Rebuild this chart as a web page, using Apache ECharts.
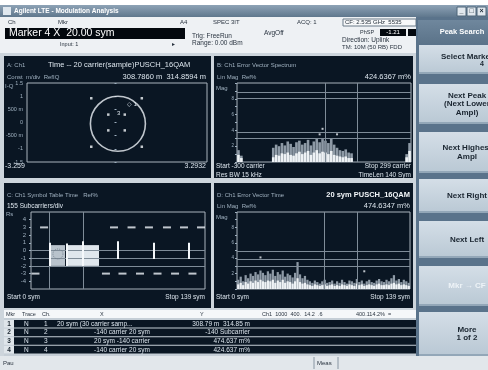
<!DOCTYPE html>
<html><head><meta charset="utf-8">
<script src="https://cdn.jsdelivr.net/npm/echarts@6/dist/echarts.min.js"></script>
<style>html,body{margin:0;padding:0;background:#fff}#c{width:488px;height:370px}</style>
</head><body><div id="c"></div>
<script>
// ---------- DATA ----------
// A: IQ constellation (16QAM, inner/outer points visible off the ring)
const constI = [-0.92, 0.92, -0.92, 0.92, -0.30, 0.30, -0.30, 0.30];
const constQ = [0.92, 0.92, -0.92, -0.92, 0.30, 0.30, -0.30, -0.30];
const ringCenter = [0.05, -0.05];
const iqRange = [-3.259, 3.2932];
const iqYTicks = {'1.5':'1.5','1':'1','0.5':'500 m','0':'0','-0.5':'-500 m','-1':'-1','-1.5':'-1.5'};

// B: error vector spectrum (carrier bins, % of ref)
const specBins = ['-300','-290','-280','-270','-260','-250','-240','-230','-220','-210',
  '-200','-190','-180','-170','-160','-150','-140','-130','-120','-110',
  '-100','-90','-80','-70','-60','-50','-40','-30','-20','-10',
  '0','10','20','30','40','50','60','70','80','90',
  '100','110','120','130','140','150','160','170','180','190',
  '200','210','220','230','240','250','260','270','280','290'];
const specPeak = [15,8,0,0,0,0,0,0,0,0, 0,0,18,22,20,24,21,26,23,19,
  25,27,22,24,28,21,26,30,25,29, 27,24,30,22,18,15,14,16,12,11,
  0,0,0,0,0,0,0,0,0,0, 0,0,0,0,0,0,0,0,10,24];
const specAvg = [9,5,0,0,0,0,0,0,0,0, 0,0,6,9,8,11,10,12,9,8,
  11,13,10,12,14,9,12,15,11,13, 12,10,14,9,8,7,6,7,5,5,
  0,0,0,0,0,0,0,0,0,0, 0,0,0,0,0,0,0,0,6,14];
const specDots = [['-10',42],['-20',35],['40',35]];
const specGridY = [88.6, 81, 38, 30];
const specGridX = ['0','110'];

// C: symbol table vs symbol
const dashTopX = [10.5, 66.8, 80.9, 94.9, 109.4, 123.1, 136.8];
const dashBotX = [3.6, 60.3, 73.6, 87.7, 101.8, 115.9, 129.9];
const dashLevels = [3, -3];
const blockSpans = [[14.5,27.4,0.7,-2.0],[29.0,41.2,0.7,-2.0],[41.8,54.7,0.7,-2.0]];
const barSpans = [[14.7,1.0,-2.0],[28.7,0.9,-2.0],[41.6,1.2,-2.0],[69.4,1.2,-1.1],[98.4,1.0,-1.1],[126.6,1.0,-1.1]];
const symGridY = [0, -1, -2];
const symGridX = [14.5, 41.8];
const symYLabels = ['4','3','2','1','0','-1','-2','-3','-4'];

// D: error vector time (symbol bins, % of ref)
const timeBins = ['0','2','4','6','8','10','12','14','16','18','20','22','24','26','28','30','32','34','36','38',
  '40','42','44','46','48','50','52','54','56','58','60','62','64','66','68','70','72','74','76','78',
  '80','82','84','86','88','90','92','94','96','98','100','102','104','106','108','110','112','114','116','118',
  '120','122','124','126','128','130','132','134','136','138'];
const rmsPeak = [12,16,10,18,14,20,17,22,19,24, 21,18,23,20,25,17,22,19,24,16,
  20,18,15,21,35,19,14,17,12,10, 8,11,9,7,10,12,8,9,11,7,
  10,8,12,9,7,11,10,8,13,9, 11,7,10,12,9,8,11,13,10,9,
  12,10,14,18,11,13,9,12,10,8];
const rmsAvg = [6,8,5,9,7,10,8,11,9,12, 10,9,11,10,12,8,11,9,12,8,
  10,9,7,10,14,9,7,8,6,5, 4,6,5,4,5,6,4,5,6,4,
  5,4,6,5,4,6,5,4,7,5, 6,4,5,6,5,4,6,7,5,5,
  6,5,7,8,6,7,5,6,5,4];
const rmsDots = [['18',41],['102',23]];
const rmsGridY = [49.4, 39, 29.9];
const rmsGridX = ['70','96'];

// marker table
const tableRows = [
  ['1','N','1','20 sym (30 carrier samp...','308.79 m  314.85 m'],
  ['2','N','2','-140 carrier 20 sym','-140 Subcarrier'],
  ['3','N','3','20 sym -140 carrier','474.637 m%'],
  ['4','N','4','-140 carrier 20 sym','424.637 m%']
];
const softkeys = [
  {y:45, h:29, lines:['Select Marker'], extra:'4'},
  {y:84, h:40, lines:['Next Peak','(Next Lower','Ampl)']},
  {y:132, h:41, lines:['Next Highest','Ampl']},
  {y:179, h:34, lines:['Next Right']},
  {y:221, h:37, lines:['Next Left']},
  {y:266, h:40, lines:['Mkr \u2192 CF'], disabled:true},
  {y:312, h:44, lines:['More','1 of 2']}
];

// ---------- STYLE HELPERS ----------
const FONT = '"Liberation Sans", Arial, sans-serif';
const TXT = '#dbe4ec', DIM = '#9fb0bf', BG = '#0a1623', GRIDC = '#7f8c98', BOX = '#a9b3bd';
function T(x, y, text, o) {
  o = o || {};
  return {type:'text', z: 100, silent:true, style:{x:x, y:y, text:text, fill:o.fill || TXT,
    font:(o.bold ? 'bold ' : '') + (o.size || 7) + 'px ' + FONT, textAlign:o.align || 'left', textVerticalAlign:'middle'}};
}
function R(x, y, w, h, fill, z, stroke) {
  return {type:'rect', z: z, silent:true, shape:{x:x, y:y, width:w, height:h},
    style:{fill:fill, stroke:stroke || null, lineWidth: stroke ? 1 : 0}};
}
function L(x1, y1, x2, y2, c, z) {
  return {type:'line', z: z, silent:true, shape:{x1:x1, y1:y1, x2:x2, y2:y2}, style:{stroke:c, lineWidth:1}};
}
const grad = (a, b) => new echarts.graphic.LinearGradient(0, 0, 0, 1, [{offset:0, color:a}, {offset:1, color:b}]);

// ---------- CHROME ----------
const g = [];
g.push(R(0, 0, 488, 370, '#ffffff', -30));
g.push(R(0, 5, 488, 12, grad('#8ea3b6', '#5f778d'), -20));
g.push(R(3, 7, 8, 8, '#dfe7ee', -19));
g.push(T(14, 11, 'Agilent LTE - Modulation Analysis', {fill:'#ffffff', bold:true, size:6.5}));
[457, 467, 477].forEach((x, i) => {
  g.push(R(x, 7, 9, 9, '#e1e8ee', -19, '#4d6479'));
  g.push(T(x + 4.5, 11.5, ['_', '\u25a1', '\u00d7'][i], {fill:'#1b2836', bold:true, size:7, align:'center'}));
});
g.push(R(0, 17, 416, 36, '#eef1f4', -20));
g.push(T(8, 22, 'Ch', {fill:'#2a3440', size:6}));
g.push(T(58, 22, 'Mkr', {fill:'#2a3440', size:6}));
g.push(T(180, 22, 'A4', {fill:'#2a3440', size:6}));
g.push(T(213, 22, 'SPEC 3IT', {fill:'#2a3440', size:6}));
g.push(T(297, 22, 'ACQ: 1', {fill:'#2a3440', size:6}));
g.push(R(343, 19, 73, 7, '#f8f9fa', -19, '#6a7a88'));
g.push(T(345, 22.5, 'CF: 2.535 GHz  5535', {fill:'#1f2a35', size:6}));
g.push(R(5, 28, 180, 11, '#03080e', -19));
g.push(T(9, 33.5, 'Marker 4 X  20.00 sym', {fill:'#ffffff', size:10.5}));
g.push(T(60, 44, 'Input: 1', {fill:'#2a3440', size:5.5}));
g.push(T(172, 44, '\u25b8', {fill:'#2a3440', size:6}));
g.push(T(192, 36, 'Trig: FreeRun', {fill:'#2a3440', size:6.5}));
g.push(T(192, 43, 'Range: 0.00 dBm', {fill:'#2a3440', size:6.5}));
g.push(T(264, 33, 'AvgOff', {fill:'#2a3440', size:6.5}));
g.push(T(360, 32, 'PhSP', {fill:'#2a3440', size:5.5}));
g.push(R(380, 29, 26, 7, '#03080e', -19));
g.push(R(408, 29, 8, 7, '#03080e', -19));
g.push(T(393, 32.5, '-1.21', {fill:'#ffffff', size:6, align:'center'}));
g.push(T(342, 40, 'Direction: Uplink', {fill:'#2a3440', size:6.5}));
g.push(T(342, 47, 'TM: 10M (50 RB) FDD', {fill:'#2a3440', size:6}));

// main frame + panels
g.push(R(0, 53, 416, 303, '#cdd5dc', -18));
g.push(R(4, 56, 207, 122, BG, -15));
g.push(R(214, 56, 199, 122, BG, -15));
g.push(R(4, 183, 207, 125, BG, -15));
g.push(R(214, 183, 199, 125, BG, -15));

// panel texts
g.push(T(7, 65, 'A: Ch1', {fill:DIM, size:6}));
g.push(T(48, 65, 'Time -- 20 carrier(sample)PUSCH_16QAM', {size:7.5}));
g.push(T(7, 77, 'Const  m/div  RefIQ', {fill:DIM, size:6}));
g.push(T(206, 77, '308.7860 m  314.8594 m', {size:7.5, align:'right'}));
g.push(T(5, 86, 'I-Q', {fill:DIM, size:6}));
g.push(T(5, 166, String(iqRange[0].toFixed(3)), {size:7}));
g.push(T(206, 166, String(iqRange[1]), {size:7, align:'right'}));
g.push(T(127, 104, '\u25c7 1', {size:6}));
g.push(T(117, 113, '3', {size:6}));

g.push(T(217, 65, 'B: Ch1 Error Vector Spectrum', {fill:DIM, size:6}));
g.push(T(217, 77, 'Lin Mag  Ref%', {fill:DIM, size:6}));
g.push(T(411, 77, '424.6367 m%', {size:7.5, align:'right'}));
g.push(T(216, 88, 'Mag', {fill:DIM, size:6}));
g.push(T(216, 166, 'Start -300 carrier', {size:6.5}));
g.push(T(411, 166, 'Stop 299 carrier', {size:6.5, align:'right'}));
g.push(T(216, 175, 'Res BW 15 kHz', {size:6.5}));
g.push(T(411, 175, 'TimeLen 140 Sym', {size:6.5, align:'right'}));

g.push(T(7, 195, 'C: Ch1 Symbol Table Time   Ref%', {fill:DIM, size:6}));
g.push(T(7, 206, '155 Subcarriers/div', {size:6.5}));
g.push(T(6, 214, 'Rs', {fill:DIM, size:6}));
g.push(T(7, 297, 'Start 0 sym', {size:6.5}));
g.push(T(205, 297, 'Stop 139 sym', {size:6.5, align:'right'}));

g.push(T(217, 195, 'D: Ch1 Error Vector Time', {fill:DIM, size:6}));
g.push(T(410, 195, '20 sym PUSCH_16QAM', {bold:true, size:7.5, align:'right', fill:'#f2f6f9'}));
g.push(T(217, 206, 'Lin Mag  Ref%', {fill:DIM, size:6}));
g.push(T(410, 206, '474.6347 m%', {size:7.5, align:'right'}));
g.push(T(216, 217, 'Mag', {fill:DIM, size:6}));
g.push(T(216, 297, 'Start 0 sym', {size:6.5}));
g.push(T(410, 297, 'Stop 139 sym', {size:6.5, align:'right'}));

// marker table
g.push(R(4, 310, 412, 46, '#c5ced6', -14));
g.push(R(4, 310, 412, 8, '#f5f7f9', -13));
[['Mkr',6],['Trace',22],['Ch.',42],['X',100],['Y',200],['Ch1  1000  400.  14.2  .6',262],['400.114.2%  =',356]].forEach(h =>
  g.push(T(h[1], 314, h[0], {fill:'#2a3440', size:5.5})));
tableRows.forEach((r, i) => {
  const y = 320 + i * 8.6;
  g.push(R(4, y, 10, 7.6, '#dfe5ea', -12));
  g.push(R(14, y, 402, 7.6, '#0a1623', -12));
  const cy = y + 4;
  g.push(T(9, cy, r[0], {fill:'#1b2630', bold:true, size:6.5, align:'center'}));
  g.push(T(24, cy, r[1], {size:6.5}));
  g.push(T(44, cy, r[2], {size:6.5}));
  if (i === 0) g.push(T(57, cy, r[3], {size:6.5}));
  else g.push(T(150, cy, r[3], {size:6.5, align:'right'}));
  g.push(T(250, cy, r[4], {size:6.5, align:'right'}));
});
// status bar
g.push(R(0, 356, 488, 14, '#e2e7eb', -14));
g.push(T(3, 363, 'Pau', {fill:'#2a3440', size:6}));
g.push(L(314, 357, 314, 369, '#8896a3', -10));
g.push(L(338, 357, 338, 369, '#8896a3', -10));
g.push(T(317, 363, 'Meas', {fill:'#2a3440', size:6}));

// softkeys
g.push(R(416, 17, 72, 339, '#5a738b', -14));
g.push(R(418, 20, 70, 24, grad('#6f879d', '#5b7389'), -13));
g.push(T(462, 32, 'Peak Search', {fill:'#ffffff', bold:true, size:7.5, align:'center'}));
softkeys.forEach(k => {
  g.push(R(419, k.y, 69, k.h, grad('#d4dee7', '#b9c8d4'), -12));
  g.push(R(419, k.y + k.h - 2, 69, 2, '#93a7b8', -11));
  const n = k.lines.length, step = 8.5;
  const y0 = k.y + k.h / 2 - (n - 1) * step / 2 - (k.extra ? 3 : 0);
  k.lines.forEach((s, j) => g.push(T(467, y0 + j * step, s,
    {fill: k.disabled ? '#eef3f7' : '#1a2530', bold:true, size:8, align:'center'})));
  if (k.extra) g.push(T(484, y0 + 8, k.extra, {fill:'#1a2530', bold:true, size:7, align:'right'}));
});

// ---------- CHART ----------
const hidden = {axisLine:{show:false}, axisTick:{show:false}, axisLabel:{show:false}, splitLine:{show:false}};
const gridBase = {show:true, borderColor:BOX, borderWidth:1, backgroundColor:'transparent', containLabel:false};
const gl = (c) => ({color:c, width:1, type:'solid'});

const option = {
  animation:false,
  graphic: g,
  grid: [
    Object.assign({left:27, top:83, width:180, height:79}, gridBase),
    Object.assign({left:237, top:83, width:174, height:79}, gridBase),
    Object.assign({left:31, top:212, width:174, height:77}, gridBase),
    Object.assign({left:237, top:212, width:173, height:77}, gridBase)
  ],
  xAxis: [
    Object.assign({gridIndex:0, type:'value', min:iqRange[0], max:iqRange[1]}, hidden),
    Object.assign({gridIndex:1, type:'category', data:specBins, boundaryGap:true}, hidden),
    Object.assign({gridIndex:2, type:'value', min:0, max:140}, hidden),
    Object.assign({gridIndex:3, type:'category', data:timeBins, boundaryGap:true}, hidden)
  ],
  yAxis: [
    {gridIndex:0, type:'value', min:-1.5, max:1.5, interval:0.5, splitLine:{show:false}, axisLine:{show:false},
      axisTick:{show:true, length:2, lineStyle:{color:DIM}},
      axisLabel:{fontSize:5.5, color:DIM, margin:4, fontFamily:FONT, formatter:v => iqYTicks[String(v)] || ''}},
    {gridIndex:1, type:'value', min:0, max:100, interval:10, splitLine:{show:false}, axisLine:{show:false},
      axisTick:{show:true, length:2, lineStyle:{color:DIM}},
      axisLabel:{fontSize:4.5, color:DIM, margin:3, fontFamily:FONT, formatter:v => v % 20 === 0 && v > 0 && v < 100 ? String(v / 10) : ''}},
    {gridIndex:2, type:'value', min:-5, max:5, interval:1, splitLine:{show:false}, axisLine:{show:false},
      axisTick:{show:true, length:2, lineStyle:{color:DIM}},
      axisLabel:{fontSize:6, color:DIM, margin:5, fontFamily:FONT, showMinLabel:false, showMaxLabel:false,
        formatter:v => symYLabels.indexOf(String(v)) >= 0 ? String(v) : ''}},
    {gridIndex:3, type:'value', min:0, max:100, interval:10, splitLine:{show:false}, axisLine:{show:false},
      axisTick:{show:true, length:2, lineStyle:{color:DIM}},
      axisLabel:{fontSize:4.5, color:DIM, margin:3, fontFamily:FONT, formatter:v => v % 20 === 0 && v > 0 && v < 100 ? String(v / 10) : ''}}
  ],
  series: [
    // A
    {type:'scatter', xAxisIndex:0, yAxisIndex:0, data:[ringCenter], symbol:'circle', symbolSize:55, silent:true,
      itemStyle:{color:'rgba(0,0,0,0)', borderColor:'#eef3f7', borderWidth:1.6}},
    {type:'scatter', xAxisIndex:0, yAxisIndex:0, data:constI.map((v, i) => [v, constQ[i]]), symbol:'rect', symbolSize:2.5,
      silent:true, itemStyle:{color:'#f2f6f9'}},
    // B
    {type:'bar', xAxisIndex:1, yAxisIndex:1, data:specPeak, barCategoryGap:'10%', barGap:'-100%', silent:true,
      itemStyle:{color:'#8e9aa6'}, z:3,
      markLine:{silent:true, symbol:['none','none'], label:{show:false}, lineStyle:gl(GRIDC),
        data:specGridY.map(v => ({yAxis:v})).concat(specGridX.map(v => ({xAxis:v})))}},
    {type:'bar', xAxisIndex:1, yAxisIndex:1, data:specAvg, barCategoryGap:'10%', barGap:'-100%', silent:true,
      itemStyle:{color:'#eef2f5'}, z:4},
    {type:'scatter', xAxisIndex:1, yAxisIndex:1, data:specDots, symbol:'rect', symbolSize:2, silent:true,
      itemStyle:{color:'#e8eef3'}, z:5},
    // C
    {type:'scatter', xAxisIndex:2, yAxisIndex:2, data:[], silent:true, z:2,
      markLine:{silent:true, symbol:['none','none'], label:{show:false}, lineStyle:gl(GRIDC),
        data:symGridY.map(v => ({yAxis:v})).concat(symGridX.map(v => ({xAxis:v})))}},
    {type:'scatter', xAxisIndex:2, yAxisIndex:2, data:[], silent:true, z:3,
      markArea:{silent:true, data:blockSpans.map((b, i) => [
        {coord:[b[0], b[2]], itemStyle:{color: i === 0 ? '#b9c3cc' : '#dfe6ec', opacity:1}},
        {coord:[b[1], b[3]]}])}},
    {type:'scatter', xAxisIndex:2, yAxisIndex:2, data:[], silent:true, z:4,
      markLine:{silent:true, symbol:['none','none'], label:{show:false}, lineStyle:{color:'#f4f7fa', width:2, type:'solid'},
        data:barSpans.map(b => [{coord:[b[0], b[1]]}, {coord:[b[0], b[2]]}])}},
    {type:'scatter', xAxisIndex:2, yAxisIndex:2, data:[[21.7, -0.45]], symbol:'circle', symbolSize:10, silent:true, z:5,
      itemStyle:{color:'rgba(0,0,0,0)', borderColor:'#6d7b88', borderWidth:1, borderType:'dotted'}},
    {type:'scatter', xAxisIndex:2, yAxisIndex:2, data:dashTopX.map(x => [x, dashLevels[0]]), symbol:'rect', symbolSize:[8, 2],
      silent:true, itemStyle:{color:'#eef3f7'}, z:5},
    {type:'scatter', xAxisIndex:2, yAxisIndex:2, data:dashBotX.map(x => [x, dashLevels[1]]), symbol:'rect', symbolSize:[8, 2],
      silent:true, itemStyle:{color:'#eef3f7'}, z:5},
    // D
    {type:'bar', xAxisIndex:3, yAxisIndex:3, data:rmsPeak, barCategoryGap:'10%', barGap:'-100%', silent:true,
      itemStyle:{color:'#8e9aa6'}, z:3,
      markLine:{silent:true, symbol:['none','none'], label:{show:false}, lineStyle:gl(GRIDC),
        data:rmsGridY.map(v => ({yAxis:v})).concat(rmsGridX.map(v => ({xAxis:v})))}},
    {type:'bar', xAxisIndex:3, yAxisIndex:3, data:rmsAvg, barCategoryGap:'10%', barGap:'-100%', silent:true,
      itemStyle:{color:'#eef2f5'}, z:4},
    {type:'scatter', xAxisIndex:3, yAxisIndex:3, data:rmsDots, symbol:'rect', symbolSize:2, silent:true,
      itemStyle:{color:'#e8eef3'}, z:5}
  ]
};
const chart = echarts.init(document.getElementById('c'), null, {renderer:'canvas'});
chart.setOption(option);
</script>
</body></html>
